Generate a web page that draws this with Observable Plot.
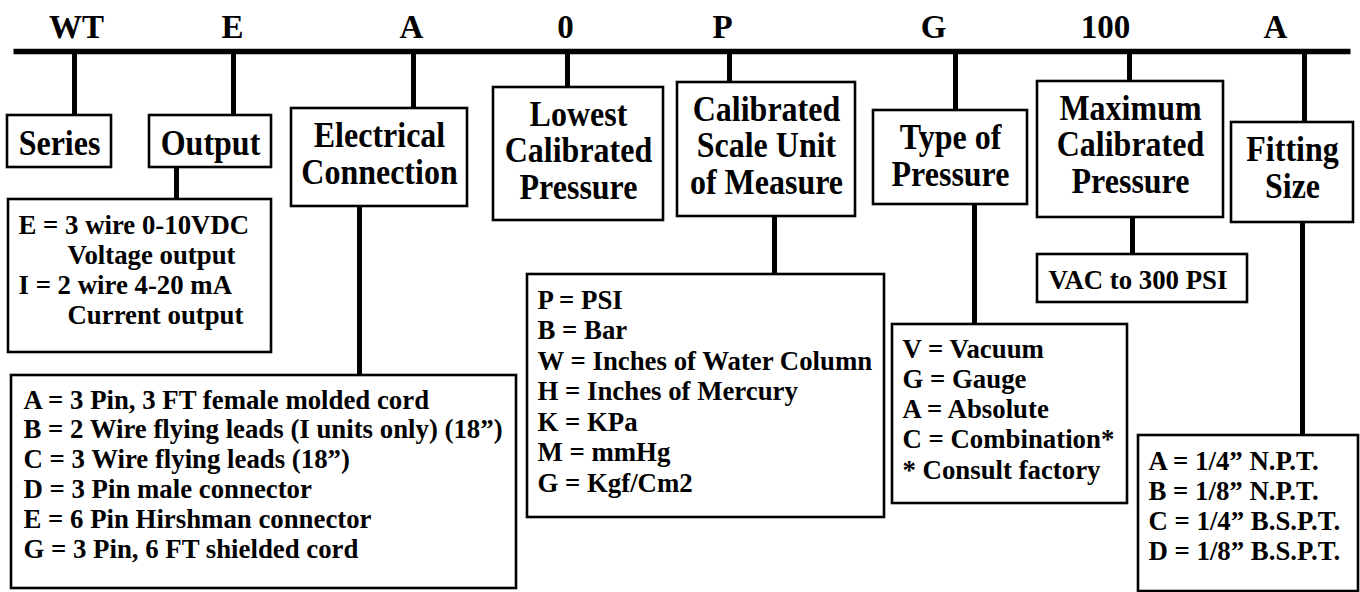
<!DOCTYPE html>
<html>
<head>
<meta charset="utf-8">
<script src="https://cdn.jsdelivr.net/npm/d3@7"></script>
<script src="https://cdn.jsdelivr.net/npm/@observablehq/plot@0.6"></script>
<style>
  html, body { margin: 0; padding: 0; background: #fff; }
  #chart svg { display: block; }
</style>
</head>
<body>
<div id="chart"></div>
<script>
// ---------- DATA (text content only) ----------
const codes = ["WT", "E", "A", "0", "P", "G", "100", "A"];
const headers = [
  "Series",
  "Output",
  "Electrical\nConnection",
  "Lowest\nCalibrated\nPressure",
  "Calibrated\nScale Unit\nof Measure",
  "Type of\nPressure",
  "Maximum\nCalibrated\nPressure",
  "Fitting\nSize"
];
const outputOptions = ["E = 3 wire 0-10VDC", "  Voltage output", "I = 2 wire 4-20 mA", "  Current output"];
const electricalOptions = [
  "A = 3 Pin, 3 FT female molded cord",
  "B = 2 Wire flying leads (I units only) (18\u201D)",
  "C = 3 Wire flying leads (18\u201D)",
  "D = 3 Pin male connector",
  "E = 6 Pin Hirshman connector",
  "G = 3 Pin, 6 FT shielded cord"
];
const unitOptions = [
  "P = PSI", "B = Bar", "W = Inches of Water Column", "H = Inches of Mercury",
  "K = KPa", "M = mmHg", "G = Kgf/Cm2"
];
const typeOptions = ["V = Vacuum", "G = Gauge", "A = Absolute", "C = Combination*", "* Consult factory"];
const maxOptions = ["VAC to 300 PSI"];
const fittingOptions = ["A = 1/4\u201D N.P.T.", "B = 1/8\u201D N.P.T.", "C = 1/4\u201D B.S.P.T.", "D = 1/8\u201D B.S.P.T."];

// ---------- LAYOUT (diagram geometry, in diagram units) ----------
const W = 1360, H = 592;
const bar = {x1: 13, x2: 1350, y: 51};
const codeX = [76, 232, 411, 565, 722, 933, 1105, 1275];
const codeBaseline = 37;
const tickX = [74, 233, 413, 567, 729, 955, 1129, 1304];
// header boxes: [x1, x2, y1, y2]
const headerBox = [
  [7, 111, 115, 167],
  [149, 271, 115, 167],
  [291, 467, 108, 206],
  [493, 663, 87, 220],
  [677, 855, 82, 216],
  [873, 1027, 110, 204],
  [1037, 1223, 81, 217],
  [1231, 1353, 122, 222]
];
const headerLastBaseline = [154, 154, 183, 198, 193, 185, 192, 197];
// option groups: header index, box, text x, first baseline, pitch, connector x
const optionGroups = [
  {lines: outputOptions, header: 1, box: [8, 271, 199, 352], tx: 18, b0: 233, pitch: 30.3, cx: 176},
  {lines: electricalOptions, header: 2, box: [11, 516, 375, 588], tx: 23, b0: 408, pitch: 29.8, cx: 359},
  {lines: unitOptions, header: 4, box: [527, 884, 274, 517], tx: 537, b0: 308, pitch: 30.5, cx: 774},
  {lines: typeOptions, header: 5, box: [892, 1127, 324, 503], tx: 902, b0: 357, pitch: 30.3, cx: 974},
  {lines: maxOptions, header: 6, box: [1037, 1247, 254, 302], tx: 1048, b0: 288, pitch: 30, cx: 1132},
  {lines: fittingOptions, header: 7, box: [1138, 1358, 435, 591], tx: 1148, b0: 469, pitch: 30, cx: 1302}
];
const indentPx = 49;
const headerStretchY = 1.12;

// ---------- Build mark tables ----------
const codeRows = codes.map((c, i) => ({text: c, x: codeX[i], y: codeBaseline}));
const tickRows = tickX.map((x, i) => ({x, y1: bar.y, y2: headerBox[i][2]}));
const headerRows = headers.map((t, i) => {
  const [x1, x2, y1, y2] = headerBox[i];
  return {text: t, x1, x2, y1, y2, cx: (x1 + x2) / 2, y: headerLastBaseline[i]};
});
const optionBoxes = optionGroups.map(g => ({x1: g.box[0], x2: g.box[1], y1: g.box[2], y2: g.box[3]}));
const connectorRows = optionGroups.map(g => ({x: g.cx, y1: headerBox[g.header][3], y2: g.box[2]}));
const optionRows = optionGroups.flatMap(g => g.lines.map((t, j) => {
  const indented = /^\s+/.test(t);
  return {text: t.trim(), x: g.tx + (indented ? indentPx : 0), y: g.b0 + j * g.pitch};
}));

const font = "'Liberation Serif', 'Times New Roman', Times, serif";

// stretch header glyphs vertically (anchored on the last baseline)
function stretchY(index, scales, values, dimensions, context, next) {
  const g = next(index, scales, values, dimensions, context);
  for (const t of g.querySelectorAll("text")) {
    t.setAttribute("transform", (t.getAttribute("transform") || "") + ` scale(1,${headerStretchY})`);
  }
  return g;
}

const plot = Plot.plot({
  width: W,
  height: H,
  margin: 0,
  x: {domain: [0, W], range: [0, W], axis: null},
  y: {domain: [0, H], range: [0, H], axis: null},
  style: {background: "#fff", fontFamily: font, color: "#000"},
  marks: [
    Plot.link([bar], {x1: "x1", x2: "x2", y1: "y", y2: "y", stroke: "#000", strokeWidth: 5.5, strokeLinecap: "butt"}),
    Plot.ruleX(tickRows, {x: "x", y1: "y1", y2: "y2", stroke: "#000", strokeWidth: 5}),
    Plot.ruleX(connectorRows, {x: "x", y1: "y1", y2: "y2", stroke: "#000", strokeWidth: 5}),
    Plot.rect(headerRows, {x1: "x1", x2: "x2", y1: "y1", y2: "y2", fill: "#fff", stroke: "#000", strokeWidth: 2.6}),
    Plot.rect(optionBoxes, {x1: "x1", x2: "x2", y1: "y1", y2: "y2", fill: "#fff", stroke: "#000", strokeWidth: 2.6}),
    Plot.text(codeRows, {x: "x", y: "y", text: "text", fontFamily: font, fontWeight: "bold", fontSize: 33, lineAnchor: "bottom", textAnchor: "middle", fill: "#000"}),
    Plot.text(headerRows, {x: "cx", y: "y", text: "text", fontFamily: font, fontWeight: "bold", fontSize: 32, lineHeight: 1.14 / headerStretchY, lineAnchor: "bottom", textAnchor: "middle", fill: "#000", render: stretchY}),
    Plot.text(optionRows, {x: "x", y: "y", text: "text", fontFamily: font, fontWeight: "bold", fontSize: 26.8, lineAnchor: "bottom", textAnchor: "start", fill: "#000"})
  ]
});
document.getElementById("chart").appendChild(plot);
</script>
</body>
</html>
